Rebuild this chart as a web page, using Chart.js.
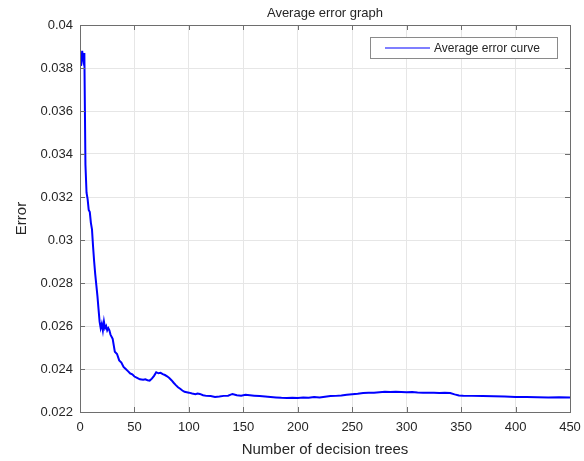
<!DOCTYPE html>
<html>
<head>
<meta charset="utf-8">
<script src="https://cdn.jsdelivr.net/npm/chart.js@4.4.0/dist/chart.umd.min.js"></script>
<style>
  html, body { margin: 0; padding: 0; background: #fff; }
  #wrap { width: 584px; height: 461px; }
</style>
</head>
<body>
<div id="wrap"><canvas id="myChart" width="584" height="461"></canvas></div>
<script>
// number of decision trees
var trees = [1, 2, 3, 4, 5, 6, 7, 8, 9, 10, 11, 12, 13, 14, 15, 16, 17, 18, 19, 20,
    21, 22, 23, 24, 25, 26, 27, 28, 30, 32, 34, 36, 38, 40, 42, 44, 46, 48, 50, 52,
    55, 58, 60, 62, 64, 66, 68, 70, 72, 74, 76, 78, 80, 82, 84, 86, 88, 90, 92, 94,
    96, 98, 100, 103, 106, 108, 110, 113, 116, 120, 124, 128, 132, 136, 140, 144, 148, 152, 156, 160,
    165, 170, 175, 180, 185, 190, 195, 200, 205, 210, 215, 220, 225, 230, 235, 240, 245, 250, 255, 260,
    265, 270, 275, 280, 285, 290, 295, 300, 305, 310, 315, 320, 325, 330, 335, 340, 344, 348, 352, 360,
    370, 380, 390, 400, 410, 420, 430, 440, 450];
// average error for each of them
var errors = [0.0381, 0.0388, 0.0384, 0.0387, 0.0335, 0.0322, 0.0319, 0.0314, 0.0313, 0.0308,
    0.0305, 0.0297, 0.0290, 0.0284, 0.0279, 0.0274, 0.0268, 0.0262, 0.0259, 0.0261,
    0.0258, 0.0262, 0.0259, 0.0260, 0.0258, 0.0259, 0.0258, 0.0256, 0.0254, 0.0248,
    0.0247, 0.0244, 0.0243, 0.0241, 0.0240, 0.0239, 0.0238, 0.02375, 0.02365, 0.0236,
    0.02352, 0.02350, 0.02352, 0.02348, 0.02346, 0.02355, 0.02368, 0.02385, 0.02380, 0.02382,
    0.02376, 0.02372, 0.02366, 0.02358, 0.02348, 0.02336, 0.02325, 0.02315, 0.02308, 0.02300,
    0.02294, 0.02292, 0.02290, 0.02286, 0.02283, 0.02286, 0.02284, 0.02278, 0.02275, 0.02274,
    0.02270, 0.02272, 0.02275, 0.02276, 0.02284, 0.02278, 0.02276, 0.02280, 0.02278, 0.02276,
    0.02274, 0.02272, 0.02270, 0.02268, 0.02266, 0.02265, 0.02266, 0.02265, 0.02267, 0.02266,
    0.02270, 0.02268, 0.02271, 0.02274, 0.02275, 0.02277, 0.02280, 0.02283, 0.02285, 0.02288,
    0.02289, 0.02290, 0.02292, 0.02294, 0.02293, 0.02294, 0.02293, 0.02292, 0.02293, 0.02291,
    0.02290, 0.02290, 0.02289, 0.02288, 0.02289, 0.02288, 0.02282, 0.02277, 0.02276, 0.02275,
    0.02274, 0.02273, 0.02272, 0.02270, 0.02270, 0.02269, 0.02268, 0.02269, 0.02268];

var xTicks = [0, 50, 100, 150, 200, 250, 300, 350, 400, 450];
var yTicks = [0.022, 0.024, 0.026, 0.028, 0.03, 0.032, 0.034, 0.036, 0.038, 0.04];

var chartTitle = 'Average error graph';
var seriesName = 'Average error curve';

var points = [];
for (var i = 0; i < trees.length; i++) {
    points.push({ x: trees[i], y: errors[i] });
}

var axisColor = '#6e6e6e';
var textColor = '#262626';
var fontFam = '"Liberation Sans", Arial, Helvetica, sans-serif';

// box around the axes, inward ticks, title and legend, MATLAB style
var matlabBox = {
    id: 'matlabBox',
    afterDraw: function (chart) {
        var ctx = chart.ctx;
        var a = chart.chartArea;
        var xs = chart.scales.x, ys = chart.scales.y;
        ctx.save();
        ctx.strokeStyle = axisColor;
        ctx.lineWidth = 1;
        ctx.strokeRect(Math.round(a.left) + 0.5, Math.round(a.top) + 0.5,
            Math.round(a.right - a.left), Math.round(a.bottom - a.top));
        ctx.beginPath();
        xTicks.forEach(function (v) {
            var px = Math.round(xs.getPixelForValue(v)) + 0.5;
            ctx.moveTo(px, a.bottom); ctx.lineTo(px, a.bottom - 5);
            ctx.moveTo(px, a.top); ctx.lineTo(px, a.top + 5);
        });
        yTicks.forEach(function (v) {
            var py = Math.round(ys.getPixelForValue(v)) + 0.5;
            ctx.moveTo(a.left, py); ctx.lineTo(a.left + 5, py);
            ctx.moveTo(a.right, py); ctx.lineTo(a.right - 5, py);
        });
        ctx.stroke();

        // title
        ctx.fillStyle = textColor;
        ctx.font = '13px ' + fontFam;
        ctx.textAlign = 'center';
        ctx.textBaseline = 'middle';
        ctx.fillText(chartTitle, (a.left + a.right) / 2, 13);

        // legend
        var lx = 370, ly = 37, lw = 187, lh = 21;
        ctx.fillStyle = '#fff';
        ctx.fillRect(lx, ly, lw, lh);
        ctx.strokeStyle = '#8a8a8a';
        ctx.strokeRect(lx + 0.5, ly + 0.5, lw, lh);
        ctx.strokeStyle = '#0000ff';
        ctx.lineWidth = 1.2;
        ctx.beginPath();
        ctx.moveTo(385, ly + 11); ctx.lineTo(430, ly + 11);
        ctx.stroke();
        ctx.fillStyle = textColor;
        ctx.font = '12px ' + fontFam;
        ctx.textAlign = 'left';
        ctx.fillText(seriesName, 434, ly + 11.5);
        ctx.restore();
    }
};

const ctx = document.getElementById('myChart');
const myChart = new Chart(ctx, {
    type: 'line',
    data: {
        datasets: [{
            label: seriesName,
            data: points,
            borderColor: '#0000ff',
            borderWidth: 2,
            pointRadius: 0,
            fill: false,
            tension: 0
        }]
    },
    options: {
        responsive: false,
        animation: false,
        layout: { padding: { left: 0, right: 14, top: 25, bottom: 0 } },
        plugins: {
            legend: { display: false },
            title: { display: false },
            tooltip: { enabled: false }
        },
        scales: {
            x: {
                type: 'linear',
                min: 0,
                max: 450,
                afterFit: function (scale) {
                    scale.height = 49;
                    scale.paddingLeft = 0;
                    scale.paddingRight = 0;
                },
                afterBuildTicks: function (scale) {
                    scale.ticks = xTicks.map(function (v) { return { value: v }; });
                },
                grid: { color: '#e6e6e6', drawTicks: false },
                border: { display: false },
                ticks: {
                    padding: 8,
                    color: textColor,
                    font: { family: fontFam, size: 13 }
                },
                title: {
                    display: true,
                    text: 'Number of decision trees',
                    color: textColor,
                    font: { family: fontFam, size: 15 },
                    padding: { top: 2, bottom: 2 }
                }
            },
            y: {
                min: 0.022,
                max: 0.04,
                afterFit: function (scale) {
                    scale.width = 80;
                    scale.paddingTop = 0;
                    scale.paddingBottom = 0;
                },
                afterBuildTicks: function (scale) {
                    scale.ticks = yTicks.map(function (v) { return { value: v }; });
                },
                grid: { color: '#e6e6e6', drawTicks: false },
                border: { display: false },
                ticks: {
                    padding: 7,
                    color: textColor,
                    font: { family: fontFam, size: 13 },
                    callback: function (value) { return String(Number(value.toFixed(3))); }
                },
                title: {
                    display: true,
                    text: 'Error',
                    color: textColor,
                    font: { family: fontFam, size: 15 },
                    padding: { top: 13, bottom: 2 }
                }
            }
        }
    },
    plugins: [matlabBox]
});
</script>
</body>
</html>
